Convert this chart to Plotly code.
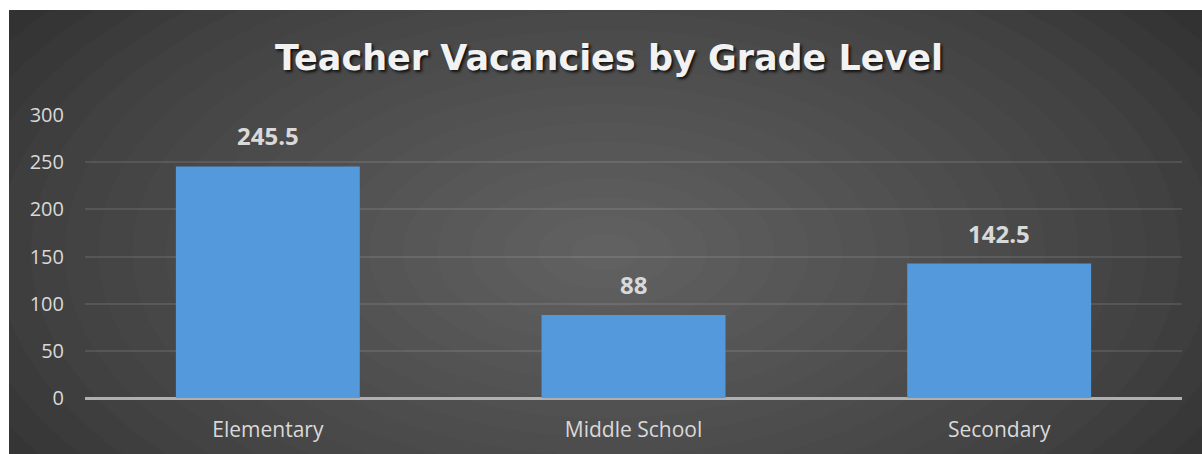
import plotly.graph_objects as go

grades = ["Elementary", "Middle School", "Secondary"]
vacancies = [245.5, 88, 142.5]
y_ticks = [0, 50, 100, 150, 200, 250, 300]

W, H = 1202, 454
L, R, T, B = 85, 20, 115, 56
pw, ph = W - L - R, H - T - B


def px(x):
    return (x - L) / pw


def py(y):
    return (H - B - y) / ph


fig = go.Figure()
fig.add_trace(go.Bar(
    x=grades, y=vacancies,
    marker=dict(color="#5499dc", line=dict(width=0)),
    hoverinfo="x+y",
))

# dark frame + soft radial glow
shapes = [dict(type="rect", xref="paper", yref="paper", layer="below",
               x0=px(9), x1=px(W), y0=py(H), y1=py(10),
               fillcolor="#292929", line=dict(width=0))]
cx, cy = (9 + W) / 2, (10 + H) / 2 + 20
n = 24
for i in range(n):
    k = 1 - i / n
    rx, ry = 0.68 * (W - 9) * k, 1.0 * (H - 10) * k
    shapes.append(dict(type="circle", xref="paper", yref="paper", layer="below",
                       x0=px(cx - rx), x1=px(cx + rx), y0=py(cy + ry), y1=py(cy - ry),
                       fillcolor="rgba(255,255,255,0.014)", line=dict(width=0)))
# white border strips on top of overflow
for x0, x1, y0, y1 in [(-300, 9, -300, H + 300), (-300, W + 300, -300, 10),
                       (-300, W + 300, H, H + 300), (W, W + 300, -300, H + 300)]:
    shapes.append(dict(type="rect", xref="paper", yref="paper", layer="above",
                       x0=px(x0), x1=px(x1), y0=py(y1), y1=py(y0),
                       fillcolor="white", line=dict(width=0)))

annotations = [dict(x=g, y=v, xref="x", yref="y", text=f"{v:g}", showarrow=False,
                    yanchor="bottom", yshift=12,
                    font=dict(family="Open Sans", size=24, color="#d9d9d9", weight=700))
               for g, v in zip(grades, vacancies)]

fig.update_layout(
    width=W, height=H,
    margin=dict(l=L, r=R, t=T, b=B),
    paper_bgcolor="white",
    plot_bgcolor="rgba(0,0,0,0)",
    bargap=0.497,
    showlegend=False,
    shapes=shapes,
    annotations=annotations,
    title=dict(text="Teacher Vacancies by Grade Level",
               x=609 / W, xref="container", xanchor="center",
               y=1 - 58 / H, yref="container", yanchor="middle",
               font=dict(family="DejaVu Sans", size=35, color="#f2f2f2", weight=700,
                         shadow="2px 2px 3px rgba(0,0,0,0.8)")),
    xaxis=dict(showgrid=False, showline=False, ticks="",
               tickfont=dict(family="Open Sans", size=21, color="#d9d9d9"),
               ticklabelstandoff=17),
    yaxis=dict(range=[0, 300], tickvals=y_ticks, showline=False, ticks="",
               gridcolor="rgba(255,255,255,0.1)", gridwidth=2,
               zeroline=True, zerolinecolor="#b0b0b0", zerolinewidth=3,
               tickfont=dict(family="Open Sans", size=20, color="#d9d9d9"),
               ticklabelstandoff=20),
)

fig.write_html("out.html", config={"displayModeBar": False},
               post_script="document.body.style.margin='0';")
